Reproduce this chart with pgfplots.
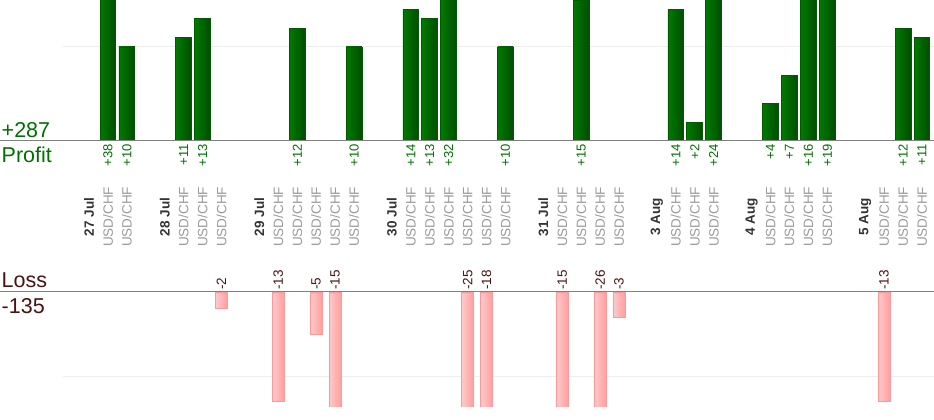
\documentclass[border=0pt]{standalone}
\usepackage{pgfplots}
\pgfplotsset{compat=1.18}
\usepackage{fontspec}
\setmainfont{Liberation Sans}
\definecolor{pga}{HTML}{007A00}
\definecolor{pgb}{HTML}{004D00}
\definecolor{pgline}{HTML}{005A00}
\definecolor{lra}{HTML}{FFCACA}
\definecolor{lrb}{HTML}{FF9E9E}
\definecolor{lrline}{HTML}{FF9999}
\definecolor{ptxt}{HTML}{007000}
\definecolor{ltxt}{HTML}{4A1212}
\definecolor{basec}{HTML}{808080}
\definecolor{gridc}{HTML}{EEEEEE}
\definecolor{datec}{HTML}{333333}
\definecolor{symc}{HTML}{9A9A9A}
\newcommand{\D}[1]{\rotatebox{90}{\color{datec}\bfseries #1}}
\newcommand{\U}{\rotatebox{90}{\color{symc}USD/CHF}}
\pgfplotsset{
  panel/.style={scale only axis, width=871pt, xmin=-1.3735, xmax=44.638,
    axis line style={draw=none}, major tick length=0pt,
    yticklabels={}, ymajorgrids, grid style={gridc, line width=1pt},
    clip mode=individual},
  pbar/.style={ybar, bar width=15.8pt, draw=pgline, line width=0.8pt, left color=pga, right color=pgb},
  lbar/.style={ybar, bar width=11.9pt, draw=lrline, line width=0.8pt, left color=lra, right color=lrb},
}
\begin{document}
\begin{tikzpicture}
\useasboundingbox (0pt,0pt) rectangle (934pt,420pt);
% ---------------- Profit panel ----------------
\begin{axis}[panel, at={(63pt,279pt)}, anchor=south west, height=141pt,
  ymin=0, ymax=15, ytick={10},
  xtick={0,1,2,4,5,6,7,9,10,11,12,13,14,16,17,18,19,20,21,22,24,25,26,27,28,30,31,32,33,35,36,37,38,39,41,42,43,44},
  xticklabels={\D{27 Jul},\U,\U,\D{28 Jul},\U,\U,\U,\D{29 Jul},\U,\U,\U,\U,\U,\D{30 Jul},\U,\U,\U,\U,\U,\U,\D{31 Jul},\U,\U,\U,\U,\D{3 Aug},\U,\U,\U,\D{4 Aug},\U,\U,\U,\U,\D{5 Aug},\U,\U,\U},
  xticklabel style={anchor=center, inner sep=0pt, yshift=-76pt, font=\fontsize{13.5}{14}\selectfont},
]
\addplot[pbar] coordinates {(1,38)};
\addplot[pbar] coordinates {(2,10)};
\addplot[pbar] coordinates {(5,11)};
\addplot[pbar] coordinates {(6,13)};
\addplot[pbar] coordinates {(11,12)};
\addplot[pbar] coordinates {(14,10)};
\addplot[pbar] coordinates {(17,14)};
\addplot[pbar] coordinates {(18,13)};
\addplot[pbar] coordinates {(19,32)};
\addplot[pbar] coordinates {(22,10)};
\addplot[pbar] coordinates {(26,15)};
\addplot[pbar] coordinates {(31,14)};
\addplot[pbar] coordinates {(32,2)};
\addplot[pbar] coordinates {(33,24)};
\addplot[pbar] coordinates {(36,4)};
\addplot[pbar] coordinates {(37,7)};
\addplot[pbar] coordinates {(38,16)};
\addplot[pbar] coordinates {(39,19)};
\addplot[pbar] coordinates {(43,12)};
\addplot[pbar] coordinates {(44,11)};
\addplot[only marks, mark=*, mark size=0pt, mark options={draw=none, fill=none},
  point meta=explicit symbolic,
  nodes near coords={\rotatebox{90}{\pgfplotspointmeta}},
  nodes near coords style={anchor=north, inner sep=0pt, yshift=-3pt, text=ptxt, font=\fontsize{13}{13}\selectfont}]
  coordinates {(1,0) [+38] (2,0) [+10] (5,0) [+11] (6,0) [+13] (11,0) [+12] (14,0) [+10]
   (17,0) [+14] (18,0) [+13] (19,0) [+32] (22,0) [+10] (26,0) [+15] (31,0) [+14] (32,0) [+2]
   (33,0) [+24] (36,0) [+4] (37,0) [+7] (38,0) [+16] (39,0) [+19] (43,0) [+12] (44,0) [+11]};
\end{axis}
% ---------------- Loss panel ----------------
\begin{axis}[panel, at={(63pt,13pt)}, anchor=south west, height=115pt,
  ymin=-13.69, ymax=0, ytick={-10}, xtick=\empty]
\addplot[lbar] coordinates {(7,-2)};
\addplot[lbar] coordinates {(10,-13)};
\addplot[lbar] coordinates {(12,-5)};
\addplot[lbar] coordinates {(13,-15)};
\addplot[lbar] coordinates {(20,-25)};
\addplot[lbar] coordinates {(21,-18)};
\addplot[lbar] coordinates {(25,-15)};
\addplot[lbar] coordinates {(27,-26)};
\addplot[lbar] coordinates {(28,-3)};
\addplot[lbar] coordinates {(42,-13)};
\addplot[only marks, mark=*, mark size=0pt, mark options={draw=none, fill=none},
  point meta=explicit symbolic,
  nodes near coords={\rotatebox{90}{\pgfplotspointmeta}},
  nodes near coords style={anchor=south, inner sep=0pt, yshift=2pt, text=ltxt, font=\fontsize{13.5}{14}\selectfont}]
  coordinates {(7,0) [-2] (10,0) [-13] (12,0) [-5] (13,0) [-15] (20,0) [-25] (21,0) [-18]
   (25,0) [-15] (27,0) [-26] (28,0) [-3] (42,0) [-13]};
\end{axis}
% baselines
\draw[basec, line width=1pt] (0pt,279pt) -- (934pt,279pt);
\draw[basec, line width=1pt] (0pt,128pt) -- (934pt,128pt);
% side texts
\node[anchor=base west, inner sep=0pt, text=ptxt, font=\fontsize{21.5}{22}\selectfont] at (1.5pt,282.3pt) {+287};
\node[anchor=base west, inner sep=0pt, text=ptxt, font=\fontsize{21.5}{22}\selectfont] at (1.5pt,257.7pt) {Profit};
\node[anchor=base west, inner sep=0pt, text=ltxt, font=\fontsize{21.5}{22}\selectfont] at (1.5pt,132.7pt) {Loss};
\node[anchor=base west, inner sep=0pt, text=ltxt, font=\fontsize{21.5}{22}\selectfont] at (1.5pt,106pt) {-135};
\end{tikzpicture}
\end{document}
